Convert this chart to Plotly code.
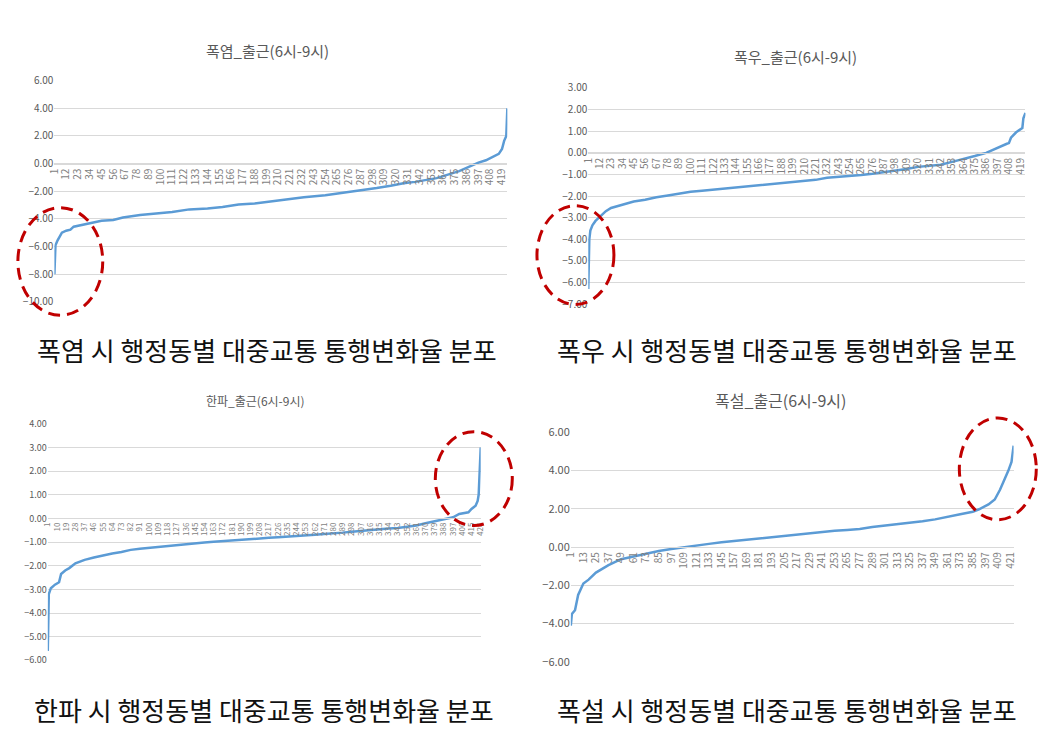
import plotly.graph_objects as go

W, H = 1064, 741
FONT = "Noto Sans CJK KR"

# ---------------- data ----------------
# 폭염 (heat wave)
heat_x = [1, 2, 4, 6, 8, 12, 16, 19, 23, 32, 45, 56, 65, 81, 99, 111, 127, 144, 158, 173,
          188, 204, 221, 234, 254, 265, 278, 290, 302, 315, 327, 338, 348, 358, 367, 379,
          388, 397, 404, 410, 416, 419, 421, 423, 424]
heat_y = [-8.0, -5.9, -5.55, -5.3, -5.0, -4.85, -4.78, -4.56, -4.5, -4.37, -4.14, -4.08,
          -3.9, -3.71, -3.59, -3.5, -3.31, -3.25, -3.14, -2.95, -2.88, -2.72, -2.58, -2.43,
          -2.28, -2.17, -2.05, -1.89, -1.77, -1.6, -1.42, -1.32, -1.18, -1.05, -0.83, -0.54,
          -0.24, 0.07, 0.24, 0.47, 0.71, 1.06, 1.65, 2.0, 4.0]
heat_ticks = list(range(1, 425, 11))

# 폭우 (heavy rain)
rain_x = [1, 2, 3, 5, 8, 12, 18, 23, 34, 45, 56, 67, 78, 89, 100, 111, 122, 133, 144, 155,
          166, 177, 188, 199, 210, 221, 232, 243, 254, 265, 276, 287, 298, 309, 320, 331,
          342, 353, 364, 375, 386, 397, 406, 408, 410, 415, 421, 422, 424]
rain_y = [-6.3, -4.0, -3.6, -3.35, -3.15, -2.95, -2.7, -2.55, -2.4, -2.25, -2.17, -2.05,
          -1.97, -1.88, -1.8, -1.75, -1.7, -1.65, -1.6, -1.56, -1.5, -1.47, -1.42, -1.38,
          -1.33, -1.25, -1.15, -1.12, -1.07, -1.03, -0.97, -0.9, -0.85, -0.75, -0.65, -0.6,
          -0.55, -0.42, -0.3, -0.15, 0.0, 0.25, 0.42, 0.45, 0.7, 0.95, 1.15, 1.6, 1.85]
rain_ticks = list(range(1, 425, 11))

# 한파 (cold wave)
cold_x = [1, 2, 4, 8, 12, 14, 18, 22, 28, 37, 46, 55, 64, 73, 82, 91, 100, 109, 118, 127,
          136, 145, 154, 163, 172, 181, 190, 199, 208, 217, 226, 235, 244, 253, 262, 271,
          280, 289, 298, 307, 316, 325, 334, 343, 352, 361, 370, 379, 388, 397, 403, 412,
          415, 419, 421, 422, 424]
cold_y = [-5.6, -3.2, -2.95, -2.8, -2.7, -2.35, -2.2, -2.1, -1.9, -1.75, -1.65, -1.55,
          -1.48, -1.42, -1.33, -1.28, -1.24, -1.2, -1.15, -1.12, -1.08, -1.05, -1.02, -0.99,
          -0.96, -0.92, -0.88, -0.86, -0.84, -0.82, -0.8, -0.78, -0.76, -0.72, -0.69, -0.66,
          -0.64, -0.6, -0.56, -0.52, -0.5, -0.46, -0.43, -0.4, -0.36, -0.3, -0.2, -0.12,
          -0.05, 0.05, 0.19, 0.26, 0.4, 0.54, 0.74, 1.0, 3.0]
cold_ticks = list(range(1, 425, 9))

# 폭설 (heavy snow)
snow_x = [1, 2, 5, 8, 13, 18, 25, 37, 49, 61, 73, 85, 97, 109, 121, 133, 145, 157, 169,
          181, 193, 205, 217, 229, 241, 253, 265, 277, 289, 301, 313, 325, 337, 349, 361,
          373, 385, 391, 400, 406, 411, 416, 419, 422, 424]
snow_y = [-4.1, -3.5, -3.3, -2.5, -1.9, -1.7, -1.33, -0.94, -0.63, -0.49, -0.32, -0.2,
          -0.1, 0.0, 0.08, 0.17, 0.25, 0.32, 0.38, 0.45, 0.53, 0.6, 0.65, 0.72, 0.78, 0.85,
          0.9, 0.95, 1.05, 1.12, 1.18, 1.25, 1.35, 1.45, 1.6, 1.72, 1.85, 1.98, 2.23, 2.49,
          3.0, 3.6, 4.0, 4.45, 5.3]
snow_ticks = list(range(1, 425, 12))

titles = ["폭염_출근(6시-9시)", "폭우_출근(6시-9시)", "한파_출근(6시-9시)", "폭설_출근(6시-9시)"]
captions = ["폭염 시 행정동별 대중교통 통행변화율 분포", "폭우 시 행정동별 대중교통 통행변화율 분포",
            "한파 시 행정동별 대중교통 통행변화율 분포", "폭설 시 행정동별 대중교통 통행변화율 분포"]
y_ranges = [(-10, 6, 2), (-7, 3, 1), (-6, 4, 1), (-6, 6, 2)]

# ---------------- layout geometry (pixels) ----------------
panels = [
    dict(x=heat_x, y=heat_y, ticks=heat_ticks, box=(46, 73.3, 505, 299.3),
         title=(262, 42, 15), tfs=10, yfs=10, cap=(261, 348),
         ell=(9, 203, 95, 313)),
    dict(x=rain_x, y=rain_y, ticks=rain_ticks, box=(587, 80.7, 1030, 301.7),
         title=(797, 49, 15), tfs=10, yfs=10, cap=(788, 348),
         ell=(535, 201, 613, 302)),
    dict(x=cold_x, y=cold_y, ticks=cold_ticks, box=(39.3, 424, 478, 665.7),
         title=(250, 400, 12), tfs=8, yfs=9, cap=(258, 716),
         ell=(432, 432, 510, 528)),
    dict(x=snow_x, y=snow_y, ticks=snow_ticks, box=(569.3, 432.7, 1018, 667.3),
         title=(782, 400, 16), tfs=10, yfs=11, cap=(788, 716),
         ell=(963, 418, 1041, 522)),
]

fig = go.Figure()
layout = dict(width=W, height=H, margin=dict(l=0, r=0, t=0, b=0),
              paper_bgcolor="white", plot_bgcolor="white", showlegend=False,
              annotations=[], shapes=[])


def px(xp):
    return xp / W


def py(yp):
    return 1 - yp / H


for i, p in enumerate(panels):
    n = "" if i == 0 else str(i + 1)
    x0, y0, x1, y1 = p["box"]
    lo, hi, step = y_ranges[i]
    fig.add_trace(go.Scatter(x=p["x"], y=p["y"], mode="lines",
                             line=dict(color="#5b9bd5", width=2.5),
                             xaxis="x" + n, yaxis="y" + n, hoverinfo="skip"))
    # position of the value-0 line (category axis crosses at 0)
    zero_pix = y0 + (hi - 0) / (hi - lo) * (y1 - y0)
    layout["xaxis" + n] = dict(domain=[px(x0), px(x1)], range=[1, 424],
                               anchor="free", position=py(zero_pix),
                               tickmode="array", tickvals=p["ticks"],
                               ticktext=[str(t) for t in p["ticks"]],
                               tickangle=-90, showgrid=False, zeroline=False,
                               showline=True, linecolor="#d9d9d9", linewidth=1,
                               ticks="",
                               tickfont=dict(family=FONT, size=p["tfs"], color="#7f7f7f"))
    tv = list(range(lo, hi + 1, step))
    layout["yaxis" + n] = dict(domain=[py(y1), py(y0)], range=[lo, hi],
                               anchor="x" + n, tickmode="array", tickvals=tv,
                               tickformat=".2f", showgrid=True, gridcolor="#d9d9d9",
                               gridwidth=1, zeroline=False, showline=False, ticks="",
                               tickfont=dict(family=FONT, size=p["yfs"], color="#595959"))
    tx, ty, tsize = p["title"]
    layout["annotations"].append(dict(text=titles[i], x=px(tx), y=py(ty), xref="paper",
                                      yref="paper", showarrow=False, xanchor="center",
                                      yanchor="middle",
                                      font=dict(family=FONT, size=tsize, color="#595959")))
    cx, cy = p["cap"]
    layout["annotations"].append(dict(text=captions[i], x=px(cx), y=py(cy), xref="paper",
                                      yref="paper", showarrow=False, xanchor="center",
                                      yanchor="middle",
                                      font=dict(family=FONT, size=26, color="#111111")))
    ex0, ey0, ex1, ey1 = p["ell"]
    layout["shapes"].append(dict(type="circle", xref="paper", yref="paper",
                                 x0=px(ex0), x1=px(ex1), y0=py(ey1), y1=py(ey0),
                                 line=dict(color="#c00000", width=3, dash="12px,7px")))

fig.update_layout(**layout)
fig.write_html("out.html")
